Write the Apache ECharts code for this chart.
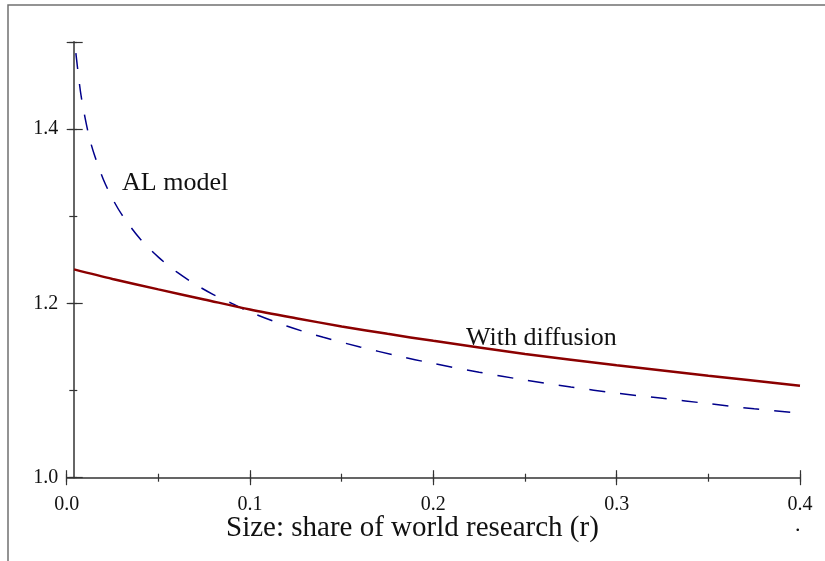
<!DOCTYPE html>
<html>
<head>
<meta charset="utf-8">
<script src="https://cdn.jsdelivr.net/npm/echarts@6/dist/echarts.min.js"></script>
<style>
  html, body { margin: 0; padding: 0; background: #fff; }
  #chart { width: 825px; height: 561px; }
</style>
</head>
<body>
<div id="chart"></div>
<script>
// values
const rAL = [0.005, 0.0075, 0.01, 0.0125, 0.015, 0.02, 0.025, 0.03, 0.04, 0.05, 0.06, 0.07, 0.08, 0.09,
  0.1, 0.12, 0.14, 0.16, 0.18, 0.2, 0.225, 0.25, 0.275, 0.3, 0.325, 0.35, 0.375, 0.4]
const alModel = [1.487, 1.443, 1.413, 1.389, 1.371, 1.342, 1.320, 1.302, 1.274, 1.253, 1.236, 1.222, 1.210, 1.200,
  1.190, 1.174, 1.161, 1.150, 1.140, 1.131, 1.121, 1.112, 1.104, 1.097, 1.091, 1.085, 1.079, 1.074]

const rDiff = [0.004, 0.025, 0.05, 0.075, 0.1, 0.125, 0.15, 0.175, 0.2, 0.25, 0.3, 0.35, 0.4]
const withDiffusion = [1.239, 1.228, 1.216, 1.2045, 1.193, 1.183, 1.1735, 1.165, 1.157, 1.142, 1.129, 1.117, 1.1055]

const xTicks = { min: 0, max: 0.4, major: 0.1, minor: 0.05 }
const yTicks = { min: 1.0, max: 1.5, major: 0.2, minor: 0.1 }

const serif = 'Liberation Serif'
const axisColor = '#333'

const chart = echarts.init(document.getElementById('chart'), null, { renderer: 'canvas' })

// tick-only axis: ticks drawn "inside" from a shifted line so they cross the real axis
const tickAxis = (t, position, step, offset, len) => ({
  type: 'value', position, min: t.min, max: t.max, interval: step, offset,
  axisLine: { show: false },
  axisTick: { show: true, inside: true, length: len, lineStyle: { color: axisColor, width: 1.2 } },
  axisLabel: { show: false },
  splitLine: { show: false }
})

chart.setOption({
  backgroundColor: '#fff',
  animation: false,
  grid: { left: 66.7, right: 25, top: 41.8, bottom: 83.3 },
  xAxis: [
    {
      type: 'value', position: 'bottom', min: xTicks.min, max: xTicks.max, interval: xTicks.major,
      axisLine: { show: true, lineStyle: { color: axisColor, width: 1.5 } },
      axisTick: { show: false },
      axisLabel: { color: '#111', fontFamily: serif, fontSize: 20, margin: 17, formatter: v => v.toFixed(1) },
      splitLine: { show: false }
    },
    tickAxis(xTicks, 'bottom', xTicks.major, 7.5, 15),
    tickAxis(xTicks, 'bottom', xTicks.minor, 4, 8)
  ],
  yAxis: [
    {
      type: 'value', position: 'left', min: yTicks.min, max: yTicks.max, interval: yTicks.major, offset: -6.6,
      axisLine: { show: true, lineStyle: { color: axisColor, width: 1.5 } },
      axisTick: { show: false },
      axisLabel: { color: '#111', fontFamily: serif, fontSize: 20, margin: 15, showMaxLabel: false,
        formatter: v => v.toFixed(1) },
      splitLine: { show: false }
    },
    tickAxis(yTicks, 'left', yTicks.major, 1.4, 16),
    tickAxis(yTicks, 'left', yTicks.minor, -2.6, 8)
  ],
  series: [
    {
      name: 'AL model', type: 'line', showSymbol: false, smooth: 0.3,
      data: rAL.map((r, i) => [r, alModel[i]]),
      lineStyle: { color: '#00008b', width: 1.5, type: [16, 15] }
    },
    {
      name: 'With diffusion', type: 'line', showSymbol: false, smooth: 0.3,
      data: rDiff.map((r, i) => [r, withDiffusion[i]]),
      lineStyle: { color: '#8b0000', width: 2.5 }
    }
  ],
  graphic: [
    { type: 'rect', shape: { x: 8, y: 5, width: 900, height: 700 }, silent: true,
      style: { fill: 'none', stroke: '#707070', lineWidth: 1.5 } },
    { type: 'text', left: 122, top: 170,
      style: { text: 'AL model', font: '26px "Liberation Serif"', fill: '#111' } },
    { type: 'text', left: 466, top: 325,
      style: { text: 'With diffusion', font: '26px "Liberation Serif"', fill: '#111' } },
    { type: 'text', left: 226, top: 514,
      style: { text: 'Size: share of world research (r)', font: '29px "Liberation Serif"', fill: '#111' } },
    { type: 'text', left: 795, top: 514,
      style: { text: '.', font: '22px "Liberation Serif"', fill: '#111' } }
  ]
})
</script>
</body>
</html>
